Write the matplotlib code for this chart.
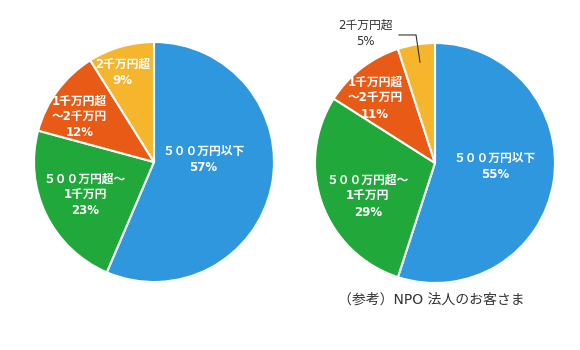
import matplotlib
matplotlib.use("Agg")
import matplotlib.pyplot as plt

plt.rcParams['font.family'] = ['DejaVu Sans', 'Noto Sans CJK JP']

categories = ["５００万円以下", "５００万円超～\n1千万円", "1千万円超\n～2千万円", "2千万円超"]
left_values = [57, 23, 12, 9]
right_values = [55, 29, 11, 5]
colors = ["#2E97DE", "#21A83A", "#E85B17", "#F5B52D"]
caption = "（参考）NPO 法人のお客さま"

fig = plt.figure(figsize=(5.8, 3.5), dpi=100)
W, H = 580, 350

def make_ax(cx, cy, r):
    return fig.add_axes([(cx - r) / W, (H - cy - r) / H, 2 * r / W, 2 * r / H])

def draw(ax, values):
    wedges, _ = ax.pie(values, colors=colors, startangle=90, counterclock=False, radius=1,
                       wedgeprops=dict(edgecolor="white", linewidth=1.5))
    for w in wedges:
        w.set_clip_on(False)
    ax.set_xlim(-1, 1)
    ax.set_ylim(-1, 1)
    ax.set_aspect("equal")
    ax.axis("off")

txt = dict(color="white", fontsize=8.5, fontweight="bold", ha="center", va="center",
           linespacing=1.3)

axL = make_ax(154, 162, 120)
draw(axL, left_values)
posL = [(0.41, 0.02), (-0.575, -0.275), (-0.62, 0.375), (-0.26, 0.75)]
for lab, v, (x, y) in zip(categories, left_values, posL):
    axL.text(x, y, f"{lab}\n{v}%", **txt)

axR = make_ax(435, 163, 120)
draw(axR, right_values)
posR = [(0.5, -0.03), (-0.56, -0.28), (-0.5, 0.54)]
for lab, v, (x, y) in zip(categories[:3], right_values[:3], posR):
    axR.text(x, y, f"{lab}\n{v}%", **txt)
axR.text(-0.58, 1.08, f"{categories[3]}\n{right_values[3]}%", color="#333333",
         fontsize=8.5, ha="center", va="center", linespacing=1.3, clip_on=False)
axR.plot([-0.3, -0.158, -0.125], [1.067, 1.067, 0.84], color="#333333", lw=0.8,
         clip_on=False)

fig.text(431 / W, 1 - 300 / H, caption, color="#333333", fontsize=10,
         ha="center", va="center")

fig.savefig("out.png", dpi=100, facecolor="white")
